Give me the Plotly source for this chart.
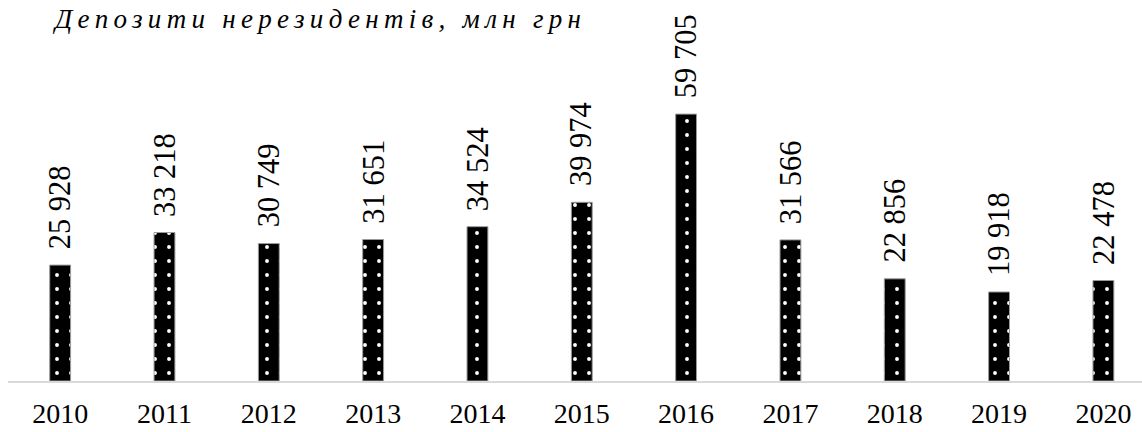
import plotly.graph_objects as go

years = ["2010", "2011", "2012", "2013", "2014", "2015", "2016", "2017", "2018", "2019", "2020"]
deposits = [25928, 33218, 30749, 31651, 34524, 39974, 59705, 31566, 22856, 19918, 22478]
value_labels = [f"{v:,}".replace(",", " ") for v in deposits]
title_text = "Депозити нерезидентів, млн грн"

SERIF = "Times New Roman, Liberation Serif, serif"
W, H = 1142, 432
ml, mr, mt, mb = 8, 0, 30, 51
plot_h = H - mt - mb
px_per_unit = 4.47 / 1000
ymax = plot_h / px_per_unit

fig = go.Figure()
fig.add_trace(go.Bar(
    x=list(range(len(years))),
    y=deposits,
    width=0.2,
    marker=dict(
        color="black",
        line=dict(color="#9a9a9a", width=1),
        pattern=dict(shape=".", fgcolor="white", bgcolor="black", size=14,
                     solidity=0.06, fgopacity=1),
    ),
    hoverinfo="skip",
))

for i, (v, lab) in enumerate(zip(deposits, value_labels)):
    fig.add_annotation(
        x=i, y=v, xref="x", yref="y", text=lab, textangle=-90,
        showarrow=False, yanchor="bottom", xanchor="center", yshift=14,
        font=dict(family=SERIF, size=30.5, color="black"),
    )

fig.add_annotation(
    x=(50 - ml) / (W - ml - mr), y=1 + 11 / plot_h, xref="paper", yref="paper",
    text=title_text, showarrow=False, xanchor="left", yanchor="middle",
    font=dict(family=SERIF, size=27, color="black", style="italic"),
)

fig.update_layout(
    width=W, height=H,
    margin=dict(l=ml, r=mr, t=mt, b=mb),
    paper_bgcolor="white", plot_bgcolor="white",
    showlegend=False,
    xaxis=dict(
        range=[-0.5, 10.37],
        tickmode="array", tickvals=list(range(len(years))), ticktext=years,
        showgrid=False, zeroline=False,
        showline=True, linecolor="#d9d9d9", linewidth=1.5,
        ticks="", ticklabelstandoff=7,
        tickfont=dict(family=SERIF, size=28, color="black"),
    ),
    yaxis=dict(range=[0, ymax], visible=False),
)

post = """
document.body.style.margin = '0';
document.body.style.padding = '0';
var gd = document.getElementById('{plot_id}');
function fixSpacing(){
  gd.querySelectorAll('.annotation-text').forEach(function(el){
    if (el.textContent.indexOf('Депозити') === 0 && !el.getAttribute('data-fixed')) {
      var b0 = el.getBBox();
      el.setAttribute('letter-spacing', '5.3px');
      var b1 = el.getBBox();
      var dx = b0.x - b1.x;
      el.setAttribute('x', parseFloat(el.getAttribute('x') || 0) + dx);
      el.querySelectorAll('tspan[x]').forEach(function(t){
        t.setAttribute('x', parseFloat(t.getAttribute('x')) + dx);
      });
      el.setAttribute('data-fixed', '1');
    }
  });
}
fixSpacing();
gd.on('plotly_afterplot', fixSpacing);
"""
fig.write_html("out.html", post_script=post, config={"displayModeBar": False})
